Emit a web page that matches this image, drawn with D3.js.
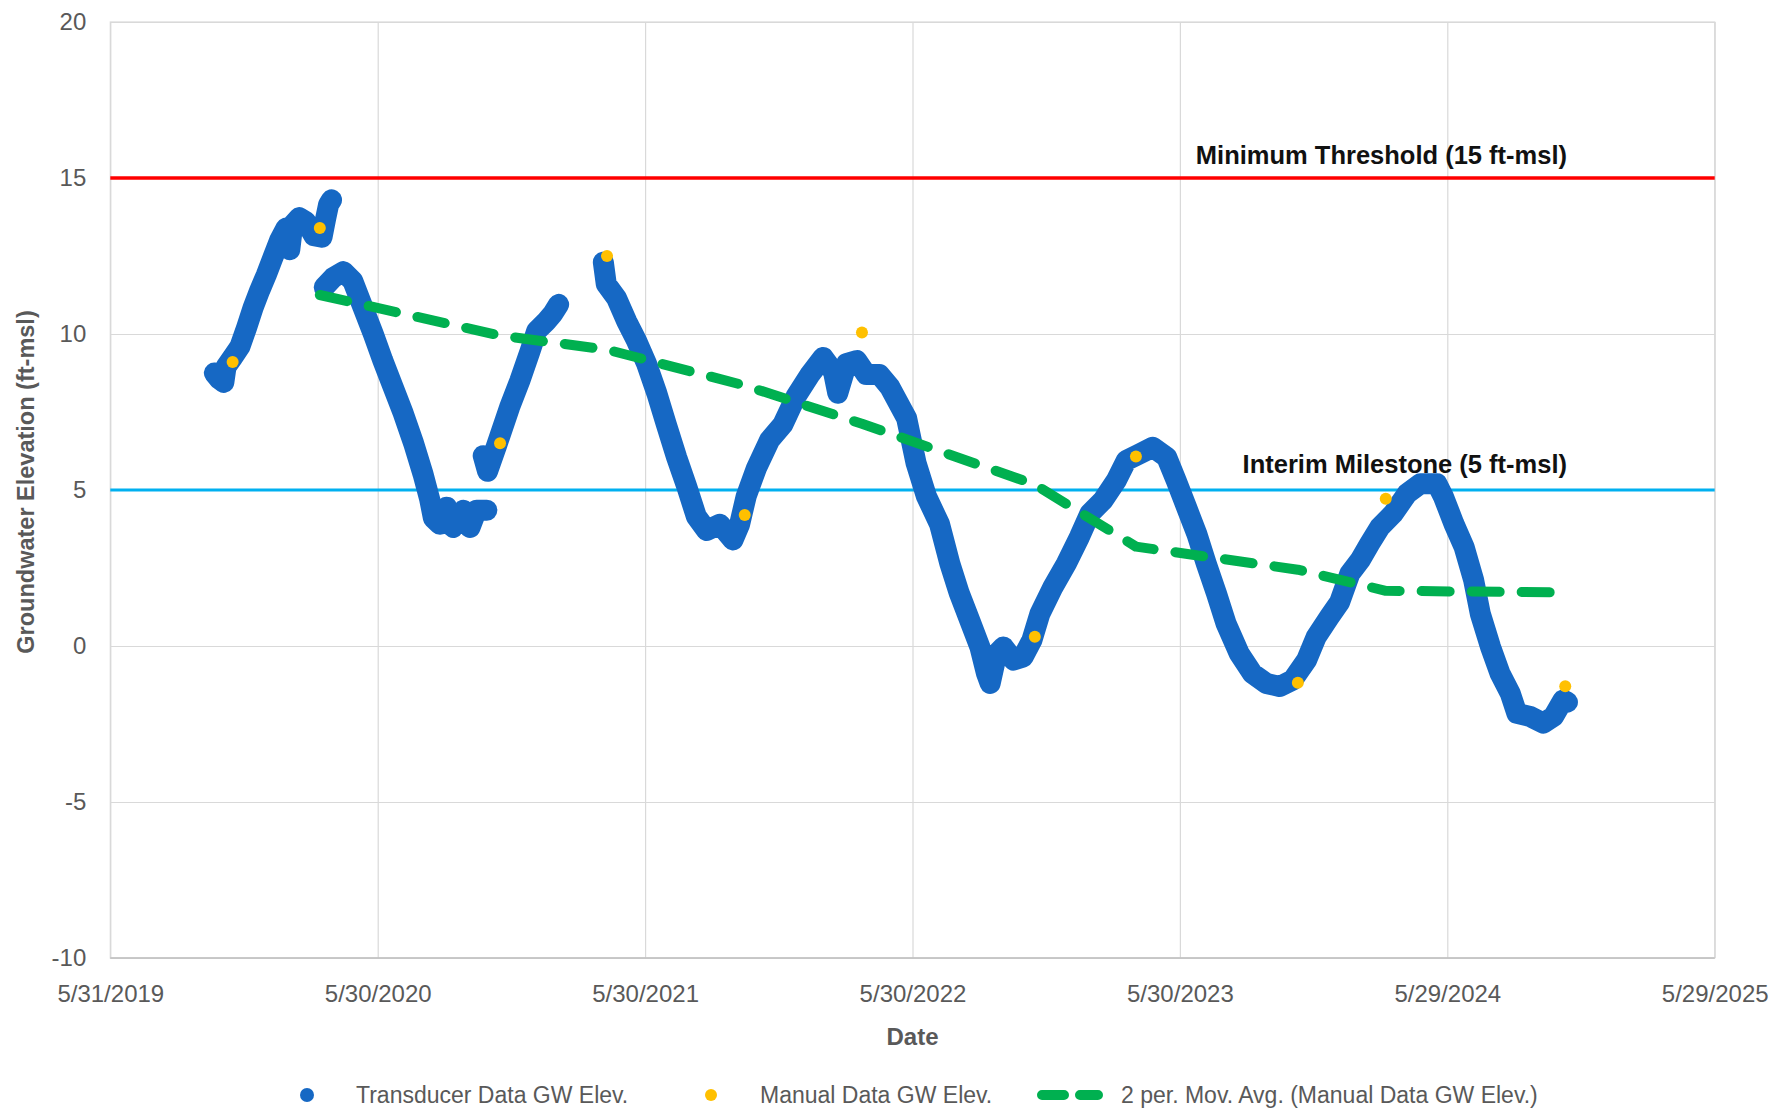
<!DOCTYPE html>
<html><head><meta charset="utf-8">
<script src="https://cdn.jsdelivr.net/npm/d3@7"></script>
<style>
body{margin:0;background:#fff}
svg{display:block}
</style>
</head><body>
<svg id="chart" width="1783" height="1109"></svg>
<script>
// ---------- DATA ----------
const xTickLabels = ["5/31/2019","5/30/2020","5/30/2021","5/30/2022","5/30/2023","5/29/2024","5/29/2025"];
const yTickValues = [-10,-5,0,5,10,15,20];

// Transducer record (null marks a gap in the record)
const transducerDates = [
 "2019-10-20","2019-10-27","2019-11-02","2019-11-05","2019-11-14","2019-11-24","2019-12-03","2019-12-12","2019-12-21","2019-12-30",
 "2020-01-08","2020-01-17","2020-01-26","2020-01-31","2020-02-04","2020-02-13","2020-02-22","2020-03-04","2020-03-15","2020-03-20","2020-03-24","2020-03-28",
 null,
 "2020-03-18","2020-03-30","2020-04-13","2020-04-26","2020-05-10","2020-05-24","2020-06-06","2020-06-20","2020-07-04","2020-07-18","2020-07-31",
 "2020-08-09","2020-08-14","2020-08-23","2020-09-01","2020-09-10","2020-09-24","2020-10-03","2020-10-12","2020-10-26",
 null,
 "2020-10-21","2020-10-27","2020-11-08","2020-11-26","2020-12-10","2020-12-24","2021-01-02","2021-01-15","2021-01-24","2021-02-01",
 null,
 "2021-04-03","2021-04-07","2021-04-21","2021-05-05","2021-05-18","2021-06-01","2021-06-15","2021-06-28","2021-07-12","2021-07-26",
 "2021-08-08","2021-08-22","2021-09-09","2021-09-27","2021-10-06","2021-10-15","2021-10-29","2021-11-16","2021-12-04","2021-12-22",
 "2022-01-10","2022-01-28","2022-02-11","2022-02-17","2022-03-01","2022-03-15","2022-03-28","2022-04-15","2022-04-29","2022-05-22",
 "2022-06-04","2022-06-18","2022-07-06","2022-07-20","2022-08-02","2022-08-16","2022-08-30","2022-09-08","2022-09-13","2022-09-22",
 "2022-10-01","2022-10-15","2022-10-28","2022-11-09","2022-11-20","2022-12-08","2022-12-26","2023-01-13","2023-01-27","2023-02-14",
 "2023-03-04","2023-03-18","2023-04-05","2023-04-23","2023-05-12","2023-05-25","2023-06-08","2023-06-22","2023-07-05","2023-07-19",
 "2023-08-01","2023-08-19","2023-09-06","2023-09-25","2023-10-13","2023-10-31","2023-11-19","2023-12-02","2023-12-20","2024-01-03",
 "2024-01-17","2024-01-31","2024-02-13","2024-02-27","2024-03-16","2024-04-04","2024-04-22","2024-05-15","2024-05-24","2024-06-07",
 "2024-06-21","2024-07-04","2024-07-13","2024-07-27","2024-08-09","2024-08-23","2024-09-01","2024-09-19","2024-10-07","2024-10-21",
 "2024-11-03","2024-11-09"
];
const transducerValues = [
 8.75,8.55,8.45,8.95,9.25,9.6,10.2,10.85,11.4,11.9,
 12.45,13.0,13.4,12.7,13.5,13.73,13.6,13.15,13.1,13.7,14.15,14.3,
 null,
 11.5,11.8,12.0,11.7,10.85,10.0,9.15,8.3,7.45,6.5,5.5,
 4.7,4.1,3.9,4.45,3.8,4.35,3.8,4.35,4.35,
 null,
 6.1,5.6,6.4,7.65,8.5,9.45,10.1,10.4,10.65,10.95,
 null,
 12.3,11.6,11.15,10.4,9.8,9.05,8.1,7.1,6.05,5.1,
 4.15,3.7,3.9,3.4,3.9,4.8,5.7,6.6,7.1,8.0,
 8.7,9.25,8.8,8.1,9.05,9.15,8.7,8.7,8.3,7.3,
 5.85,4.8,3.9,2.64,1.68,0.83,-0.03,-0.88,-1.2,-0.25,
 -0.03,-0.45,-0.35,0.19,1.04,1.9,2.64,3.5,4.24,4.67,
 5.3,5.95,6.16,6.37,6.05,5.3,4.45,3.6,2.64,1.68,
 0.72,-0.24,-0.88,-1.2,-1.3,-1.09,-0.45,0.29,0.93,1.4,
 2.32,2.75,3.28,3.81,4.24,4.88,5.2,5.2,4.77,3.92,
 3.17,2.11,1.04,-0.03,-0.88,-1.52,-2.16,-2.26,-2.47,-2.26,
 -1.73,-1.8
];

// Manual measurements
const manualDates = ["2019-11-14","2020-03-12","2020-11-13","2021-04-08","2021-10-13","2022-03-22","2022-11-13","2023-03-31","2023-11-07","2024-03-06","2024-11-06"];
const manualValues = [9.1,13.4,6.5,12.5,4.2,10.05,0.3,6.07,-1.18,4.72,-1.29];

const thresholdLabels = ["Minimum Threshold (15 ft-msl)","Interim Milestone (5 ft-msl)"];
const thresholdValues = [15,5];

const legendLabels = ["Transducer Data GW Elev.","Manual Data GW Elev.","2 per. Mov. Avg. (Manual Data GW Elev.)"];
const xAxisTitle = "Date";
const yAxisTitle = "Groundwater Elevation (ft-msl)";

// ---------- DRAW ----------
const svg = d3.select("#chart");
const W = 1783, H = 1109;
const plot = {left:110.3, right:1714.7, top:22, bottom:958};
const parseISO = d3.timeParse("%Y-%m-%d");
const parseTick = d3.timeParse("%m/%d/%Y");
const tickDates = xTickLabels.map(parseTick);

const x = d3.scaleTime().domain([tickDates[0], tickDates[tickDates.length-1]]).range([plot.left, plot.right]);
const y = d3.scaleLinear().domain([-10,20]).range([plot.bottom, plot.top]);

svg.append("rect").attr("width",W).attr("height",H).attr("fill","#fff");

const gridColor = "#d9d9d9";
// vertical gridlines
svg.append("g").attr("transform",`translate(0,${plot.bottom})`)
  .call(d3.axisBottom(x).tickValues(tickDates).tickSize(-(plot.bottom-plot.top)).tickFormat(""))
  .call(g=>g.select(".domain").remove())
  .call(g=>g.selectAll("line").attr("stroke",gridColor).attr("stroke-width",1.2));
// horizontal gridlines
svg.append("g").attr("transform",`translate(${plot.left},0)`)
  .call(d3.axisLeft(y).tickValues(yTickValues).tickSize(-(plot.right-plot.left)).tickFormat(""))
  .call(g=>g.select(".domain").remove())
  .call(g=>g.selectAll("line").attr("stroke",gridColor).attr("stroke-width",1.2));
// plot border
svg.append("rect").attr("x",plot.left).attr("y",plot.top)
  .attr("width",plot.right-plot.left).attr("height",plot.bottom-plot.top)
  .attr("fill","none").attr("stroke",gridColor).attr("stroke-width",1.2);
svg.append("line").attr("x1",plot.left).attr("x2",plot.right).attr("y1",plot.bottom).attr("y2",plot.bottom)
  .attr("stroke","#bfbfbf").attr("stroke-width",1.5);

// axes labels
const tickFont = "'Liberation Sans', Arial, sans-serif";
svg.append("g").attr("transform",`translate(0,${plot.bottom})`)
  .call(d3.axisBottom(x).tickValues(tickDates).tickSize(0).tickPadding(27).tickFormat((d,i)=>xTickLabels[i]))
  .call(g=>g.select(".domain").remove())
  .call(g=>g.selectAll("text").attr("fill","#595959").style("font-family",tickFont).style("font-size","24px"));
svg.append("g").attr("transform",`translate(${plot.left},0)`)
  .call(d3.axisLeft(y).tickValues(yTickValues).tickSize(0).tickPadding(24).tickFormat(d=>String(d)))
  .call(g=>g.select(".domain").remove())
  .call(g=>g.selectAll("text").attr("fill","#595959").style("font-family",tickFont).style("font-size","24px"));

// axis titles
svg.append("text").attr("x",(plot.left+plot.right)/2).attr("y",1045)
  .attr("text-anchor","middle").attr("fill","#595959")
  .style("font-family",tickFont).style("font-weight","bold").style("font-size","24px").text(xAxisTitle);
svg.append("text").attr("transform",`translate(34,482) rotate(-90)`)
  .attr("text-anchor","middle").attr("fill","#595959")
  .style("font-family",tickFont).style("font-weight","bold").style("font-size","23.5px").text(yAxisTitle);

// threshold lines
const thresholdColors = ["#ff0000","#00b0f0"];
const thresholdWidths = [3.5,3];
thresholdValues.forEach((v,i)=>{
  svg.append("line").attr("x1",plot.left).attr("x2",plot.right).attr("y1",y(v)).attr("y2",y(v))
    .attr("stroke",thresholdColors[i]).attr("stroke-width",thresholdWidths[i]);
});
const labelOffsets = [-14,-17];
thresholdValues.forEach((v,i)=>{
  svg.append("text").attr("x",1567).attr("y",y(v)+labelOffsets[i])
    .attr("text-anchor","end").attr("fill","#111")
    .style("font-family",tickFont).style("font-weight","bold").style("font-size","25.5px").text(thresholdLabels[i]);
});

// transducer series
const transducer = transducerDates.map((d,i)=>({date: d ? parseISO(d) : null, value: transducerValues[i]}));
const line = d3.line().defined(d=>d.value!=null && d.date!=null).x(d=>x(d.date)).y(d=>y(d.value)).curve(d3.curveLinear);
const blue = "#1668c4";
svg.append("path").datum(transducer).attr("d",line)
  .attr("fill","none").attr("stroke",blue).attr("stroke-width",21)
  .attr("stroke-linejoin","round").attr("stroke-linecap","round");

// moving average of manual data (2 period)
const manual = manualDates.map((d,i)=>({date:parseISO(d), value:manualValues[i]}));
const movAvg = manual.slice(1).map((d,i)=>({date:d.date, value:d3.mean([manual[i].value, d.value])}));
svg.append("path").datum(movAvg).attr("d",d3.line().x(d=>x(d.date)).y(d=>y(d.value)))
  .attr("fill","none").attr("stroke","#00b050").attr("stroke-width",10)
  .attr("stroke-dasharray","28,22").attr("stroke-linecap","round").attr("stroke-linejoin","round");

// manual points
svg.append("g").selectAll("circle").data(manual).join("circle")
  .attr("cx",d=>x(d.date)).attr("cy",d=>y(d.value)).attr("r",6).attr("fill","#ffc000");

// legend
const lg = svg.append("g").style("font-family",tickFont).style("font-size","23px");
lg.append("circle").attr("cx",307).attr("cy",1095).attr("r",7).attr("fill",blue);
lg.append("text").attr("x",356).attr("y",1103).attr("fill","#595959").text(legendLabels[0]);
lg.append("circle").attr("cx",711).attr("cy",1095).attr("r",6).attr("fill","#ffc000");
lg.append("text").attr("x",760).attr("y",1103).attr("fill","#595959").text(legendLabels[1]);
lg.append("line").attr("x1",1042).attr("x2",1098).attr("y1",1095).attr("y2",1095)
  .attr("stroke","#00b050").attr("stroke-width",10).attr("stroke-linecap","round").attr("stroke-dasharray","22,16");
lg.append("text").attr("x",1121).attr("y",1103).attr("fill","#595959").text(legendLabels[2]);
</script>
</body></html>
